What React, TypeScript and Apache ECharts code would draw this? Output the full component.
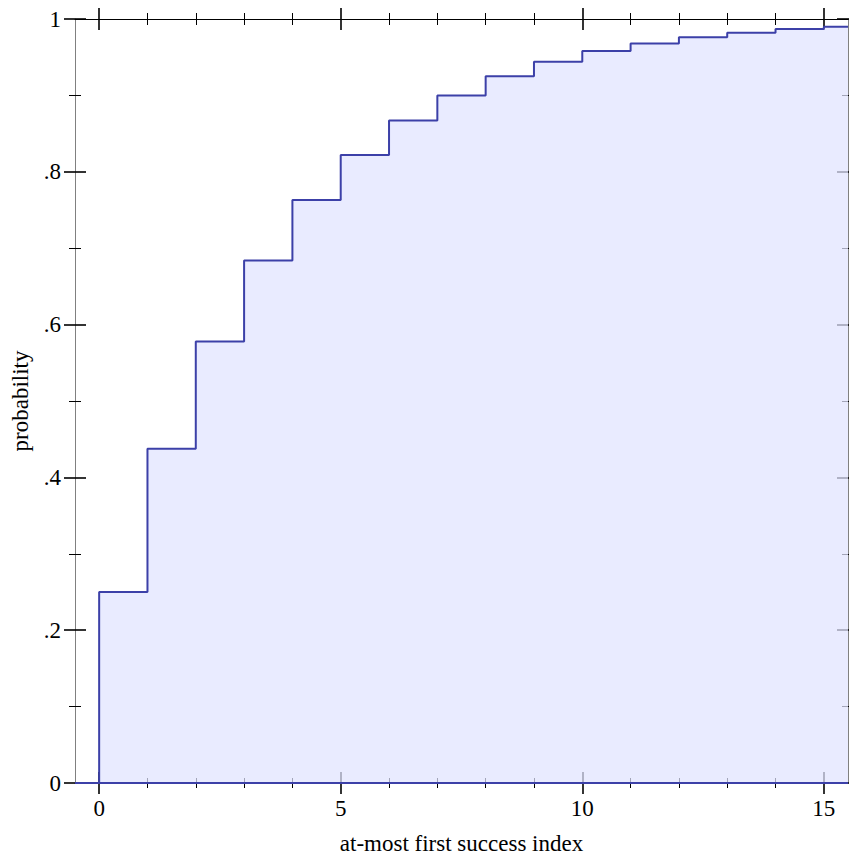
import React, { useEffect, useRef } from "react";
import * as echarts from "echarts";

const steps = [0, 1, 2, 3, 4, 5, 6, 7, 8, 9, 10, 11, 12, 13, 14, 15];
const cdf = [0.25, 0.4375, 0.578, 0.684, 0.763, 0.822, 0.867, 0.9, 0.925, 0.944, 0.958, 0.968, 0.976, 0.982, 0.987, 0.99];
const xMajor = [0, 5, 10, 15];
const xMinor = [1, 2, 3, 4, 6, 7, 8, 9, 11, 12, 13, 14];
const yMajor = [0, 0.2, 0.4, 0.6, 0.8, 1];
const yMinor = [0.1, 0.3, 0.5, 0.7, 0.9];
const xRange = [-0.5, 15.5];
const xName = "at-most first success index";
const yName = "probability";

const FONT = "Liberation Serif";
const FS = 23;
const LINE = "#3c40a8";
const FILL = "rgba(224,227,255,0.72)";

function fmtY(v: number): string {
  if (v === 0) return "0";
  if (v === 1) return "1";
  return "." + Math.round(v * 10);
}

export default function App() {
  const ref = useRef<HTMLDivElement>(null);
  useEffect(() => {
    if (!ref.current) return;
    const chart = echarts.init(ref.current, null, { renderer: "svg" });

    const mkX = (pos: string, vals: number[], inside: boolean, len: number, w: number, extra: any = {}) => ({
      type: "value",
      gridIndex: 0,
      position: pos,
      min: xRange[0],
      max: xRange[1],
      axisLine: { show: false, onZero: false },
      splitLine: { show: false },
      axisLabel: { show: false },
      axisTick: { show: true, inside, length: len, customValues: vals, lineStyle: { color: "#000", width: w } },
      ...extra,
    });
    const mkY = (pos: string, vals: number[], inside: boolean, len: number, w: number, extra: any = {}) => ({
      type: "value",
      gridIndex: 0,
      position: pos,
      min: 0,
      max: 1,
      axisLine: { show: false, onZero: false },
      splitLine: { show: false },
      axisLabel: { show: false },
      axisTick: { show: true, inside, length: len, customValues: vals, lineStyle: { color: "#000", width: w } },
      ...extra,
    });

    const upper: number[][] = [[xRange[0], 0]];
    steps.forEach((s, i) => upper.push([s, cdf[i]]));
    upper.push([xRange[1], cdf[cdf.length - 1]]);
    const lower = [[steps[0], 0], [xRange[1], 0]];

    chart.setOption({
      animation: false,
      grid: { left: 75, top: 19, right: 1, bottom: 74, containLabel: false, outerBoundsMode: "none" },
      xAxis: [
        mkX("bottom", xMajor, false, 11, 1.6, {
          axisLine: { show: true, onZero: false, lineStyle: { color: "#808080", width: 1 } },
          axisLabel: {
            show: true,
            customValues: xMajor,
            margin: 14,
            color: "#000",
            fontFamily: FONT,
            fontSize: FS,
          },
          name: xName,
          nameLocation: "middle",
          nameGap: 49,
          nameTextStyle: { color: "#000", fontFamily: FONT, fontSize: FS },
        }),
        mkX("bottom", xMajor, true, 11, 1.6),
        mkX("bottom", xMinor, false, 5, 1),
        mkX("bottom", xMinor, true, 5, 1),
        mkX("top", xMajor, false, 11, 1.6, {
          axisLine: { show: true, onZero: false, lineStyle: { color: "#000", width: 1 } },
        }),
        mkX("top", xMajor, true, 11, 1.6),
        mkX("top", xMinor, false, 6, 1),
        mkX("top", xMinor, true, 6, 1),
      ],
      yAxis: [
        mkY("left", yMajor, false, 11, 1.6, {
          axisLine: { show: true, onZero: false, lineStyle: { color: "#808080", width: 1 } },
          axisLabel: {
            show: true,
            customValues: yMajor,
            margin: 14,
            color: "#000",
            fontFamily: FONT,
            fontSize: FS,
            formatter: (v: number) => fmtY(v),
          },
          name: yName,
          nameLocation: "middle",
          nameGap: 43,
          nameTextStyle: { color: "#000", fontFamily: FONT, fontSize: FS },
        }),
        mkY("left", yMajor, true, 11, 1.6),
        mkY("left", yMinor, false, 6, 1),
        mkY("left", yMinor, true, 6, 1),
        mkY("right", yMajor, false, 11, 1.6, {
          axisLine: { show: true, onZero: false, lineStyle: { color: "#808080", width: 1 } },
        }),
        mkY("right", yMajor, true, 11, 1.6),
        mkY("right", yMinor, false, 6, 1),
        mkY("right", yMinor, true, 6, 1),
      ],
      series: [
        {
          type: "line",
          xAxisIndex: 0,
          yAxisIndex: 0,
          data: upper,
          step: "end",
          showSymbol: false,
          symbol: "none",
          lineStyle: { color: LINE, width: 2 },
          areaStyle: { color: FILL, opacity: 1, origin: "start" },
          clip: false,
        },
        {
          type: "line",
          xAxisIndex: 0,
          yAxisIndex: 0,
          data: lower,
          showSymbol: false,
          symbol: "none",
          lineStyle: { color: LINE, width: 2 },
          clip: false,
        },
      ],
    });
    return () => chart.dispose();
  }, []);
  return (
    <div
      ref={ref}
      style={{ position: "fixed", left: 0, top: 0, width: 849, height: 857, background: "#fff" }}
    />
  );
}
